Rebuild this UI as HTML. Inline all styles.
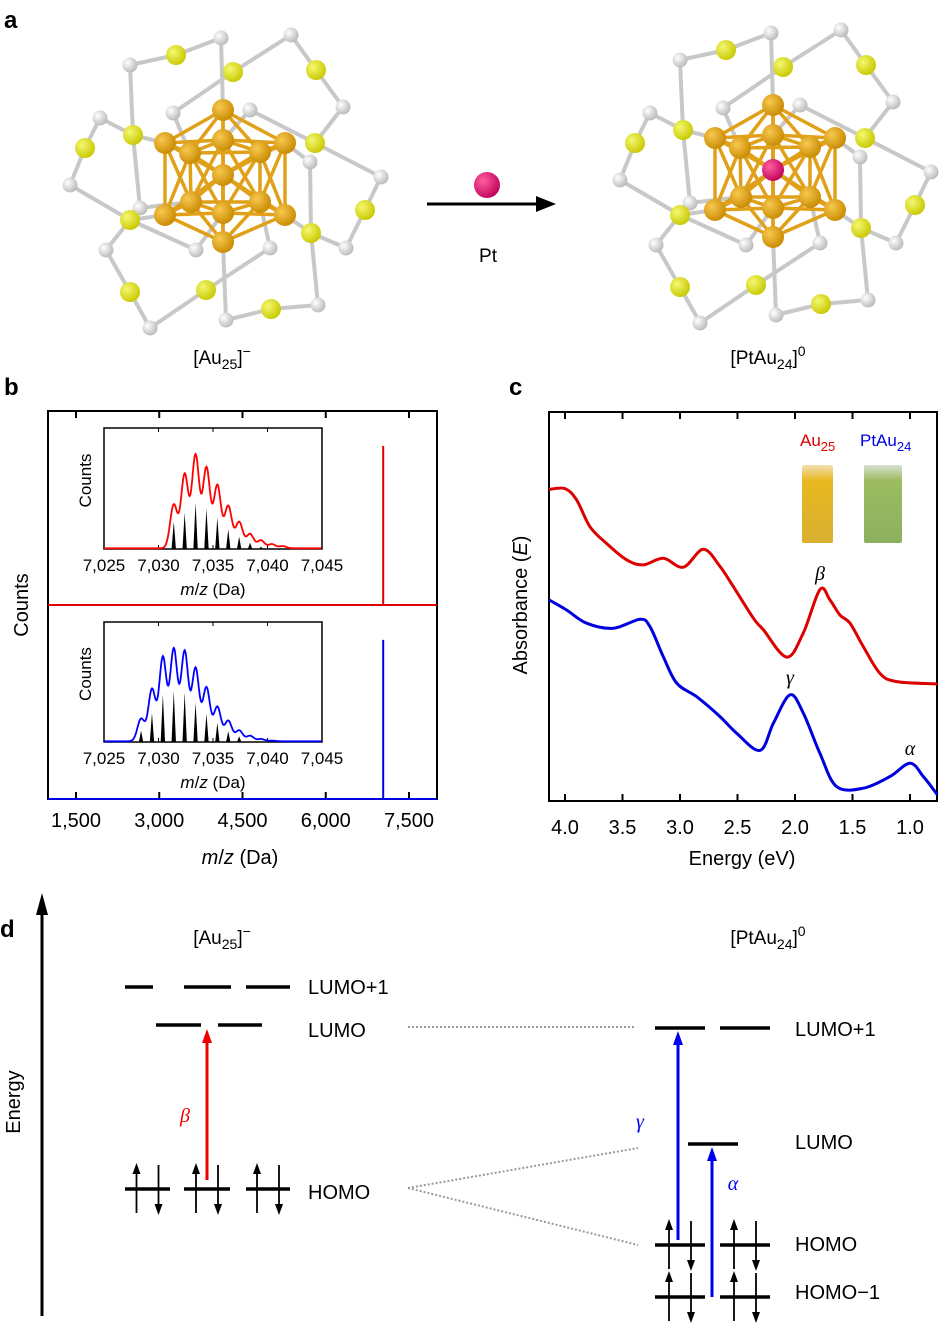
<!DOCTYPE html>
<html><head><meta charset="utf-8"><style>
body{margin:0;background:#fff}
svg{display:block;font-family:"Liberation Sans",sans-serif}
</style></head><body>
<svg id="fig" width="946" height="1325" viewBox="0 0 946 1325" xmlns="http://www.w3.org/2000/svg">
<defs>
<radialGradient id="gAu" cx="35%" cy="35%" r="70%"><stop offset="0" stop-color="#f8c850"/><stop offset="1" stop-color="#c88a00"/></radialGradient>
<radialGradient id="gS" cx="35%" cy="35%" r="70%"><stop offset="0" stop-color="#f4f870"/><stop offset="1" stop-color="#c8c800"/></radialGradient>
<radialGradient id="gC" cx="35%" cy="35%" r="70%"><stop offset="0" stop-color="#ffffff"/><stop offset="1" stop-color="#b8b8b8"/></radialGradient>
<radialGradient id="gPt" cx="35%" cy="35%" r="70%"><stop offset="0" stop-color="#ff60a0"/><stop offset="1" stop-color="#c0005a"/></radialGradient>
<linearGradient id="vialY" x1="0" x2="0" y1="0" y2="1"><stop offset="0" stop-color="#f0e0b0"/><stop offset="0.2" stop-color="#e8b820"/><stop offset="1" stop-color="#d8b030"/></linearGradient>
<linearGradient id="vialG" x1="0" x2="0" y1="0" y2="1"><stop offset="0" stop-color="#d8e0d0"/><stop offset="0.2" stop-color="#9cbc60"/><stop offset="1" stop-color="#8cb060"/></linearGradient>
</defs>
<g id="panelA"></g>
<g id="panelB"></g>
<g id="panelC"></g>
<g id="panelD"></g>
</svg>
<script>
// ---------- Panel b data ----------
const mainTicks = [1500, 3000, 4500, 6000, 7500];
const mainTickLabels = ["1,500", "3,000", "4,500", "6,000", "7,500"];
const spikeMz = [7035, 7035];
const spikeHeights = [0.82, 0.82];
const insetTicks = [7025, 7030, 7035, 7040, 7045];
const insetTickLabels = ["7,025", "7,030", "7,035", "7,040", "7,045"];
const redPeakMz = [7031.4, 7032.4, 7033.4, 7034.4, 7035.4, 7036.4, 7037.4, 7038.4, 7039.4, 7040.4, 7041.4];
const redPeakHeights = [0.378, 0.641, 0.807, 0.696, 0.544, 0.365, 0.227, 0.124, 0.069, 0.036, 0.019];
const redStickHeights = [0.227, 0.301, 0.384, 0.337, 0.260, 0.163, 0.102, 0.052, 0.019];
const bluePeakMz = [7028.4, 7029.4, 7030.4, 7031.4, 7032.4, 7033.4, 7034.4, 7035.4, 7036.4, 7037.4, 7038.4, 7039.4, 7040.4];
const bluePeakHeights = [0.196, 0.454, 0.734, 0.804, 0.784, 0.636, 0.468, 0.300, 0.179, 0.095, 0.048, 0.020, 0.006];
const blueStickHeights = [0.095, 0.244, 0.398, 0.426, 0.412, 0.328, 0.235, 0.160, 0.090, 0.048];
// ---------- Panel c data ----------
const cTicks = [4.0, 3.5, 3.0, 2.5, 2.0, 1.5, 1.0];
const cTickLabels = ["4.0", "3.5", "3.0", "2.5", "2.0", "1.5", "1.0"];
const redE = [4.139, 4.0, 3.899, 3.783, 3.638, 3.464, 3.319, 3.145, 2.971, 2.797, 2.652, 2.536, 2.362, 2.275, 2.072, 1.928, 1.783, 1.696, 1.609, 1.522, 1.406, 1.261, 1.116, 0.762];
const redAbs = [0.801, 0.803, 0.774, 0.705, 0.662, 0.620, 0.607, 0.624, 0.601, 0.647, 0.603, 0.551, 0.470, 0.440, 0.370, 0.432, 0.544, 0.517, 0.478, 0.457, 0.397, 0.328, 0.307, 0.301];
const blueE = [4.139, 3.986, 3.812, 3.580, 3.348, 3.261, 3.145, 3.029, 2.855, 2.652, 2.507, 2.304, 2.188, 2.043, 1.928, 1.783, 1.638, 1.406, 1.174, 1.0, 0.884, 0.762];
const blueAbs = [0.517, 0.491, 0.457, 0.444, 0.467, 0.448, 0.371, 0.303, 0.268, 0.217, 0.174, 0.130, 0.200, 0.273, 0.226, 0.122, 0.037, 0.033, 0.063, 0.097, 0.063, 0.016];

const NS = "http://www.w3.org/2000/svg";
function mk(parent, tag, attrs, text) {
  const e = document.createElementNS(NS, tag);
  for (const k in attrs) e.setAttribute(k, attrs[k]);
  if (text !== undefined) e.textContent = text;
  parent.appendChild(e);
  return e;
}
function smoothPath(pts) {
  let d = "M" + pts[0][0] + "," + pts[0][1];
  for (let i = 0; i < pts.length - 1; i++) {
    const p0 = pts[Math.max(0, i - 1)], p1 = pts[i], p2 = pts[i + 1], p3 = pts[Math.min(pts.length - 1, i + 2)];
    const c1x = p1[0] + (p2[0] - p0[0]) / 6, c1y = p1[1] + (p2[1] - p0[1]) / 6;
    const c2x = p2[0] - (p3[0] - p1[0]) / 6, c2y = p2[1] - (p3[1] - p1[1]) / 6;
    d += " C" + c1x.toFixed(1) + "," + c1y.toFixed(1) + " " + c2x.toFixed(1) + "," + c2y.toFixed(1) + " " + p2[0].toFixed(1) + "," + p2[1].toFixed(1);
  }
  return d;
}

// ---------- Panel a ----------
const A = document.getElementById("panelA");
let t = mk(A, "text", {x: 4, y: 28, "font-size": 24, "font-weight": "bold"}, "a");


const au = [[0,-65],[-58,-32],[0,-35],[62,-32],[-33,-22],[37,-23],[0,0],[-32,27],[37,27],[-58,40],[62,40],[0,38],[0,67]];
const gr = [[-2,-137],[-93,-110],[68,-140],[120,-68],[27,-65],[-50,-62],[-123,-57],[-153,10],[-83,33],[87,-13],[158,2],[123,73],[-27,75],[47,73],[-117,75],[-73,153],[3,145],[95,130]];
const sS = [[-47,-120],[10,-103],[93,-105],[-90,-40],[-138,-27],[92,-32],[142,35],[-93,45],[88,58],[-93,117],[-17,115],[48,134]];
const bonds = [["G1","S0"],["S0","G0"],["G0","A0"],["G1","S3"],["S3","G8"],["G6","S3"],["S3","A1"],["G6","S4"],["S4","G7"],["G7","S7"],["S7","A9"],["G2","S1"],["S1","G5"],["G5","A4"],["G2","S2"],["S2","G3"],["G3","S5"],["G4","S5"],["S5","G10"],["G10","S6"],["S6","G11"],["G11","S8"],["S8","A10"],["G9","S8"],["S8","G17"],["G17","S11"],["S11","G16"],["G16","A12"],["S10","G13"],["S10","G15"],["G15","S9"],["S9","G14"],["G14","S7"],["G8","A7"],["G12","S7"],["G13","A8"],["G9","A3"],["G4","A2"],["G12","A11"]];
function getP(k) { const idx = +k.slice(1); return k[0] === "G" ? gr[idx] : k[0] === "S" ? sS[idx] : au[idx]; }
function molecule(cx, cy, name, pt) {
  const g = mk(A, "g", {transform: "translate(" + cx + "," + cy + ")"});
  
  
  bonds.forEach(b => { const p = getP(b[0]), q = getP(b[1]); mk(g, "line", {x1: p[0], y1: p[1], x2: q[0], y2: q[1], stroke: "#c8c8c8", "stroke-width": 4}); });
  for (let i = 0; i < au.length; i++) for (let j = i + 1; j < au.length; j++) {
    const dx = au[i][0] - au[j][0], dy = au[i][1] - au[j][1];
    if (Math.hypot(dx, dy) < 75) mk(g, "line", {x1: au[i][0], y1: au[i][1], x2: au[j][0], y2: au[j][1], stroke: "#e0a018", "stroke-width": 3.5});
  }
  gr.forEach(p => mk(g, "circle", {cx: p[0], cy: p[1], r: 7.5, fill: "url(#gC)"}));
  sS.forEach(p => mk(g, "circle", {cx: p[0], cy: p[1], r: 10, fill: "url(#gS)"}));
  au.forEach((p, i) => mk(g, "circle", {cx: p[0], cy: p[1], r: 11, fill: (pt && i === 6) ? "url(#gPt)" : "url(#gAu)"}));
}
molecule(223, 175, "au25-structure", false);
molecule(773, 170, "ptau24-structure", true);
t = mk(A, "line", {x1: 427, y1: 204, x2: 540, y2: 204, stroke: "#000", "stroke-width": 3});


mk(A, "polygon", {points: "556,204 536,196 536,212", fill: "#000"});
t = mk(A, "circle", {cx: 487, cy: 185, r: 13, fill: "url(#gPt)"});


t = mk(A, "text", {x: 488, y: 262, "font-size": 19, "text-anchor": "middle"}, "Pt");


t = mk(A, "text", {x: 222, y: 364, "font-size": 19, "text-anchor": "middle"});
t.innerHTML = '[Au<tspan font-size="14" dy="5">25</tspan><tspan dy="-5">]</tspan><tspan font-size="14" dy="-8">−</tspan>';


t = mk(A, "text", {x: 768, y: 364, "font-size": 19, "text-anchor": "middle"});
t.innerHTML = '[PtAu<tspan font-size="14" dy="5">24</tspan><tspan dy="-5">]</tspan><tspan font-size="14" dy="-8">0</tspan>';



// ---------- Panel b ----------
const B = document.getElementById("panelB");
const bL = 48, bR = 437, bT = 411, bB = 799;
const bx = v => 76 + (v - 1500) * (333 / 6000);
t = mk(B, "text", {x: 4, y: 395, "font-size": 24, "font-weight": "bold"}, "b");


t = mk(B, "rect", {x: bL, y: bT, width: bR - bL, height: bB - bT, fill: "none", stroke: "#000", "stroke-width": 2});


mainTicks.forEach((v, i) => {
  const x = bx(v);
  mk(B, "line", {x1: x, y1: bT, x2: x, y2: bT + 7, stroke: "#000", "stroke-width": 2});
  mk(B, "line", {x1: x, y1: bB, x2: x, y2: bB - 7, stroke: "#000", "stroke-width": 2});
  const l = mk(B, "text", {x: x, y: 827, "font-size": 20, "text-anchor": "middle"}, mainTickLabels[i]);
  
  
});
t = mk(B, "text", {x: 240, y: 864, "font-size": 20, "text-anchor": "middle"});
t.innerHTML = '<tspan font-style="italic">m</tspan>/<tspan font-style="italic">z</tspan> (Da)';


t = mk(B, "text", {x: 28, y: 605, "font-size": 20, "text-anchor": "middle", transform: "rotate(-90 28 605)"}, "Counts");


const halves = [{base: 605, top: bT, col: "#e00000", name: "au25"}, {base: bB, top: 605, col: "#0000e0", name: "ptau24"}];
halves.forEach((h, i) => {
  const bl = mk(B, "line", {x1: bL, y1: h.base, x2: bR, y2: h.base, stroke: h.col, "stroke-width": 2});
  
  
  const sx = bx(spikeMz[i]);
  const sp = mk(B, "line", {x1: sx, y1: h.base, x2: sx, y2: h.base - spikeHeights[i] * (h.base - h.top), stroke: h.col, "stroke-width": 2});
  
  
});
function inset(top, bottom, peakMz, peakH, stickH, col, name) {
  const L = 104, R = 322;
  const ix = v => L + (v - 7025) * (R - L) / 20;
  const iy = v => bottom - v * (bottom - top);
  const g = mk(B, "g", {});
  
  
  mk(g, "rect", {x: L, y: top, width: R - L, height: bottom - top, fill: "#fff", stroke: "#000", "stroke-width": 1.5});
  insetTicks.forEach((v, i) => {
    mk(g, "line", {x1: ix(v), y1: top, x2: ix(v), y2: top + 4, stroke: "#000", "stroke-width": 1});
    mk(g, "line", {x1: ix(v), y1: bottom, x2: ix(v), y2: bottom - 4, stroke: "#000", "stroke-width": 1});
    const l = mk(g, "text", {x: ix(v), y: bottom + 22, "font-size": 17, "text-anchor": "middle"}, insetTickLabels[i]);
    
    
  });
  const at = mk(g, "text", {x: 213, y: bottom + 46, "font-size": 17, "text-anchor": "middle"});
  at.innerHTML = '<tspan font-style="italic">m</tspan>/<tspan font-style="italic">z</tspan> (Da)';
  
  
  const yt = mk(g, "text", {x: 91, y: (top + bottom) / 2 - 8, "font-size": 17, "text-anchor": "middle", transform: "rotate(-90 91 " + ((top + bottom) / 2 - 8) + ")"}, "Counts");
  
  
  stickH.forEach((h, i) => {
    const m = peakMz[i];
    const s = mk(g, "polygon", {points: ix(m - 0.2) + "," + iy(0) + " " + ix(m) + "," + iy(h) + " " + ix(m + 0.2) + "," + iy(0), fill: "#000"});
    
    
  });
  const pts = [];
  for (let m = 7025; m <= 7045; m += 0.05) {
    let v = 0;
    peakMz.forEach((p, i) => { v += peakH[i] * Math.exp(-Math.pow((m - p) / 0.33, 2) / 2); });
    pts.push(ix(m).toFixed(1) + "," + iy(v * 0.95 + 0.006).toFixed(1));
  }
  const env = mk(g, "polyline", {points: pts.join(" "), fill: "none", stroke: col, "stroke-width": 1.8});
  
  
}
inset(428, 549, redPeakMz, redPeakHeights, redStickHeights, "#ff0000", "au25");
inset(622, 742, bluePeakMz, bluePeakHeights, blueStickHeights, "#0000ff", "ptau24");

// ---------- Panel c ----------
const C = document.getElementById("panelC");
const cL = 549, cR = 937, cT = 412, cB = 801;
const cx = e => 565 + (4 - e) * 115;
const cy = v => cB - v * (cB - cT);
t = mk(C, "text", {x: 509, y: 395, "font-size": 24, "font-weight": "bold"}, "c");


t = mk(C, "rect", {x: cL, y: cT, width: cR - cL, height: cB - cT, fill: "none", stroke: "#000", "stroke-width": 2});


cTicks.forEach((v, i) => {
  const x = cx(v);
  mk(C, "line", {x1: x, y1: cT, x2: x, y2: cT + 7, stroke: "#000", "stroke-width": 2});
  mk(C, "line", {x1: x, y1: cB, x2: x, y2: cB - 7, stroke: "#000", "stroke-width": 2});
  const l = mk(C, "text", {x: x, y: 834, "font-size": 20, "text-anchor": "middle"}, cTickLabels[i]);
  
  
});
t = mk(C, "text", {x: 742, y: 865, "font-size": 20, "text-anchor": "middle"}, "Energy (eV)");


t = mk(C, "text", {x: 527, y: 605, "font-size": 20, "text-anchor": "middle", transform: "rotate(-90 527 605)"});
t.innerHTML = 'Absorbance (<tspan font-style="italic">E</tspan>)';


t = mk(C, "path", {d: smoothPath(redE.map((e, i) => [cx(e), cy(redAbs[i])])), fill: "none", stroke: "#dd0000", "stroke-width": 3});


t = mk(C, "path", {d: smoothPath(blueE.map((e, i) => [cx(e), cy(blueAbs[i])])), fill: "none", stroke: "#0000dd", "stroke-width": 3});


t = mk(C, "rect", {x: 802, y: 465, width: 31, height: 78, fill: "url(#vialY)", rx: 2});


t = mk(C, "rect", {x: 864, y: 465, width: 38, height: 78, fill: "url(#vialG)", rx: 2});


t = mk(C, "text", {x: 800, y: 446, "font-size": 17, fill: "#e00000"});
t.innerHTML = 'Au<tspan font-size="13" dy="5">25</tspan>';


t = mk(C, "text", {x: 860, y: 446, "font-size": 17, fill: "#0000e0"});
t.innerHTML = 'PtAu<tspan font-size="13" dy="5">24</tspan>';


[["β", 820, 580], ["γ", 790, 684], ["α", 910, 755]].forEach(p => {
  const l = mk(C, "text", {x: p[1], y: p[2], "font-size": 20, "font-style": "italic", "text-anchor": "middle", "font-family": "Liberation Serif, serif"}, p[0]);
  
  
});

// ---------- Panel d ----------
const D = document.getElementById("panelD");
t = mk(D, "text", {x: 0, y: 937, "font-size": 24, "font-weight": "bold"}, "d");


t = mk(D, "line", {x1: 42, y1: 1316, x2: 42, y2: 908, stroke: "#000", "stroke-width": 3});


mk(D, "polygon", {points: "42,893 36,915 48,915", fill: "#000"});
t = mk(D, "text", {x: 20, y: 1102, "font-size": 20, "text-anchor": "middle", transform: "rotate(-90 20 1102)"}, "Energy");


t = mk(D, "text", {x: 222, y: 944, "font-size": 19, "text-anchor": "middle"});
t.innerHTML = '[Au<tspan font-size="14" dy="5">25</tspan><tspan dy="-5">]</tspan><tspan font-size="14" dy="-8">−</tspan>';


t = mk(D, "text", {x: 768, y: 944, "font-size": 19, "text-anchor": "middle"});
t.innerHTML = '[PtAu<tspan font-size="14" dy="5">24</tspan><tspan dy="-5">]</tspan><tspan font-size="14" dy="-8">0</tspan>';


function level(x1, x2, y, name) {
  const l = mk(D, "line", {x1: x1, y1: y, x2: x2, y2: y, stroke: "#000", "stroke-width": 3.5});
  
  
}
function electrons(xc, y) {
  const xu = xc - 11, xd = xc + 11;
  mk(D, "line", {x1: xu, y1: y + 24, x2: xu, y2: y - 18, stroke: "#000", "stroke-width": 1.8});
  mk(D, "polygon", {points: (xu) + "," + (y - 26) + " " + (xu - 4) + "," + (y - 15) + " " + (xu + 4) + "," + (y - 15), fill: "#000"});
  mk(D, "line", {x1: xd, y1: y - 24, x2: xd, y2: y + 18, stroke: "#000", "stroke-width": 1.8});
  mk(D, "polygon", {points: (xd) + "," + (y + 26) + " " + (xd - 4) + "," + (y + 15) + " " + (xd + 4) + "," + (y + 15), fill: "#000"});
}
function label(x, y, s, name) {
  const l = mk(D, "text", {x: x, y: y, "font-size": 20}, s);
  
  
}
[[125,153],[184,231],[246,290]].forEach(s => level(s[0], s[1], 987, "au25-lumo1-level"));
label(308, 994, "LUMO+1", "au25-lumo1-label");
[[156,201],[218,262]].forEach(s => level(s[0], s[1], 1025, "au25-lumo-level"));
label(308, 1037, "LUMO", "au25-lumo-label");
[[125,170],[184,230],[246,290]].forEach(s => { level(s[0], s[1], 1189, "au25-homo-level"); electrons((s[0] + s[1]) / 2, 1189); });
label(308, 1199, "HOMO", "au25-homo-label");
mk(D, "line", {x1: 408, y1: 1027, x2: 636, y2: 1027, stroke: "#999", "stroke-width": 2, "stroke-dasharray": "2,2"});
mk(D, "line", {x1: 408, y1: 1188, x2: 638, y2: 1148, stroke: "#999", "stroke-width": 2, "stroke-dasharray": "2,2"});
mk(D, "line", {x1: 408, y1: 1188, x2: 638, y2: 1245, stroke: "#999", "stroke-width": 2, "stroke-dasharray": "2,2"});
[[655,705],[720,770]].forEach(s => level(s[0], s[1], 1028, "ptau24-lumo1-level"));
label(795, 1036, "LUMO+1", "ptau24-lumo1-label");
level(688, 738, 1144, "ptau24-lumo-level");
label(795, 1149, "LUMO", "ptau24-lumo-label");
[[655,705],[720,770]].forEach(s => { level(s[0], s[1], 1245, "ptau24-homo-level"); electrons((s[0] + s[1]) / 2, 1245); });
label(795, 1251, "HOMO", "ptau24-homo-label");
[[655,705],[720,770]].forEach(s => { level(s[0], s[1], 1297, "ptau24-homo-1-level"); electrons((s[0] + s[1]) / 2, 1297); });
label(795, 1299, "HOMO−1", "ptau24-homo-1-label");
function trans(x, y1, y2, col, name) {
  const l = mk(D, "line", {x1: x, y1: y1, x2: x, y2: y2 + 10, stroke: col, "stroke-width": 3});
  
  
  mk(D, "polygon", {points: x + "," + y2 + " " + (x - 5) + "," + (y2 + 14) + " " + (x + 5) + "," + (y2 + 14), fill: col});
}
trans(207, 1180, 1029, "#ee0000", "beta-transition");
trans(678, 1240, 1031, "#0000ee", "gamma-transition");
trans(712, 1297, 1147, "#0000ee", "alpha-transition");
[["β", 185, 1122, "#ee0000"], ["γ", 640, 1128, "#0000ee"], ["α", 733, 1190, "#0000ee"]].forEach(p => {
  const l = mk(D, "text", {x: p[1], y: p[2], "font-size": 20, "font-style": "italic", fill: p[3], "text-anchor": "middle", "font-family": "Liberation Serif, serif"}, p[0]);
  
  
});
</script>
</body></html>
